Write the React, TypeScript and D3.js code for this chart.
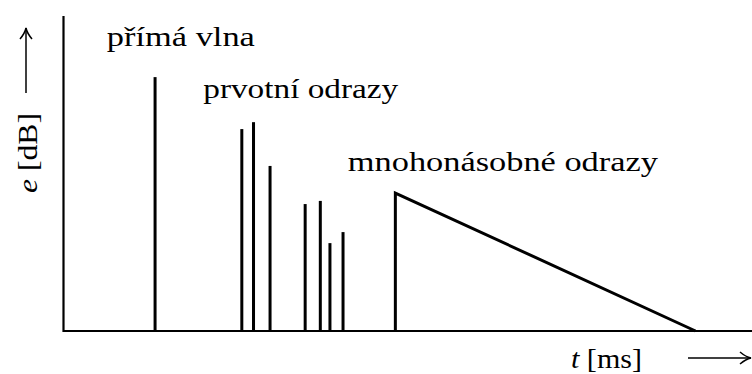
import * as d3 from 'd3'

// time (arbitrary ms units) and level (dB, relative)
const directTime = [13.3]
const directLevel = [80.6]

const earlyTimes = [25.9, 27.6, 30.0, 35.1, 37.3, 38.7, 40.6]
const earlyLevels = [64.1, 66.3, 52.4, 40.3, 41.3, 27.9, 31.4]

// late reverberation: jump up, then linear decay to zero
const lateTimes = [48.2, 48.2, 91.8]
const lateLevels = [0, 43.8, 0]

const labels = ['přímá vlna', 'prvotní odrazy', 'mnohonásobné odrazy']
const labelTimes = [6.3, 20.3, 41.3]
const labelLevels = [90.5, 74.1, 50.9]

const W = 752
const H = 374

export default function App() {
  const x = d3.scaleLinear().domain([0, 100]).range([63.5, 752])
  const y = d3.scaleLinear().domain([0, 100]).range([331, 16])

  const late = d3.line<number>()
    .x((_, i) => x(lateTimes[i]))
    .y((_, i) => y(lateLevels[i]))(lateTimes)

  const serif = { fontFamily: "'Liberation Serif', serif" }
  const widths = [148, 195, 310]

  return (
    <svg width={W} height={H} style={{ position: 'absolute', left: 0, top: 0, background: '#fff' }}>
      <defs>
        <marker id="arr" viewBox="0 0 14 14" refX="13" refY="7" markerWidth="14" markerHeight="14"
          markerUnits="userSpaceOnUse" orient="auto">
          <path d="M2,1 Q8,6 13,7 Q8,8 2,13" fill="none" stroke="#000" strokeWidth="1.5" />
        </marker>
      </defs>

      {/* axes */}
      <line x1={x(0)} x2={W} y1={y(0)} y2={y(0)} stroke="#000" strokeWidth={2.2} />
      <line x1={x(0)} x2={x(0)} y1={y(0) + 1} y2={y(100)} stroke="#000" strokeWidth={2.2} />

      {/* direct wave */}
      {directTime.map((t, i) => (
        <line key={'d' + i} x1={x(t)} x2={x(t)} y1={y(0)} y2={y(directLevel[i])}
          stroke="#000" strokeWidth={3} />
      ))}

      {/* early reflections */}
      {earlyTimes.map((t, i) => (
        <line key={'e' + i} x1={x(t)} x2={x(t)} y1={y(0)} y2={y(earlyLevels[i])}
          stroke="#000" strokeWidth={3} />
      ))}

      {/* late reverberation */}
      <path d={late ?? ''} fill="none" stroke="#000" strokeWidth={3} strokeLinejoin="miter" />

      {/* annotations */}
      {labels.map((s, i) => (
        <text key={s} x={x(labelTimes[i])} y={y(labelLevels[i])} style={serif} fontSize={27}
          textLength={widths[i]} lengthAdjust="spacingAndGlyphs" fill="#000">
          {s}
        </text>
      ))}

      {/* x axis title */}
      <text x={571} y={368} style={serif} fontSize={27} fill="#000"
        textLength={71} lengthAdjust="spacingAndGlyphs">
        <tspan fontStyle="italic">t</tspan> [ms]
      </text>
      <line x1={688} x2={751} y1={358} y2={358} stroke="#000" strokeWidth={1.5} markerEnd="url(#arr)" />

      {/* y axis title */}
      <text transform="translate(37,193) rotate(-90)" style={serif} fontSize={27} fill="#000"
        textLength={80} lengthAdjust="spacingAndGlyphs">
        <tspan fontStyle="italic">e</tspan> [dB]
      </text>
      <line x1={26} x2={26} y1={93} y2={28} stroke="#000" strokeWidth={1.5} markerEnd="url(#arr)" />
    </svg>
  )
}
